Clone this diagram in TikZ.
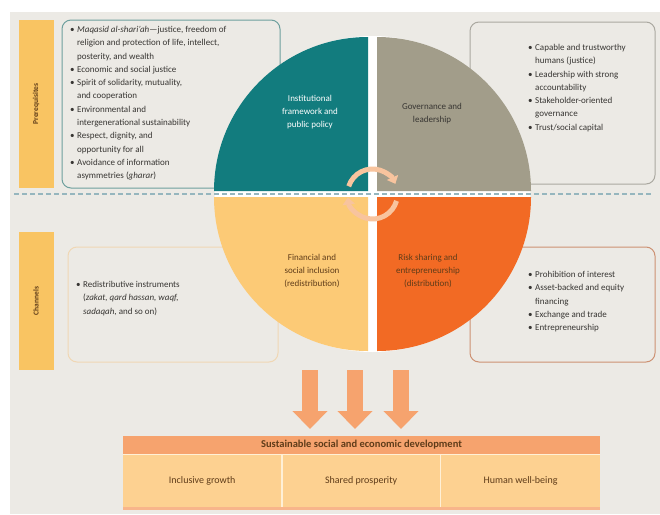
\documentclass[tikz,border=0pt]{standalone}
\usepackage{fontspec}
\setmainfont{Carlito}
\usetikzlibrary{arrows.meta,positioning,calc}
\definecolor{panelgray}{RGB}{236,234,229}
\definecolor{tealq}{RGB}{18,124,126}
\definecolor{taupeq}{RGB}{162,157,138}
\definecolor{sandq}{RGB}{252,202,118}
\definecolor{orangeq}{RGB}{242,106,36}
\definecolor{tabyellow}{RGB}{249,196,98}
\definecolor{salmon}{RGB}{246,163,110}
\definecolor{cellorange}{RGB}{253,209,145}
\definecolor{cream}{RGB}{255,240,214}
\definecolor{dashblue}{RGB}{150,182,190}
\definecolor{peach}{RGB}{248,196,158}
\definecolor{tealline}{RGB}{110,160,158}
\definecolor{grayline}{RGB}{170,168,160}
\definecolor{sandline}{RGB}{240,215,180}
\definecolor{rustline}{RGB}{205,145,115}
\definecolor{bodytext}{RGB}{55,53,50}
\definecolor{browntext}{RGB}{95,60,25}
\newcommand{\bulletitem}{\makebox[7pt][l]{\textbullet}}
\newcommand{\bulletgap}{\hspace*{7pt}}

\begin{document}
\begin{tikzpicture}[x=1pt,y=-1pt,
  tab/.style={fill=tabyellow,inner sep=0pt,rotate=90,font=\fontsize{7.5}{9}\selectfont\bfseries,text=browntext},
  infobox/.style={rounded corners=9pt,line width=1pt,fill=panelgray,inner sep=0pt},
  listtext/.style={anchor=north west,align=left,inner sep=0pt,font=\fontsize{9}{13.3}\selectfont,text=bodytext},
  quadtext/.style={align=center,font=\fontsize{9}{13}\selectfont},
  cell/.style={fill=cellorange,minimum height=52pt,inner sep=0pt,font=\fontsize{10}{12}\selectfont,text=browntext},
  downarrow/.style={salmon,line width=16pt,-{Triangle[length=18pt,width=34pt]}}]
\useasboundingbox (0,0) rectangle (660,514);
\fill[white] (0,0) rectangle (660,514);
\fill[panelgray] (10,12) rectangle (660,514);
\node (prereq) [tab,minimum width=168pt,minimum height=35pt] at (36,104) {Prerequisites};
\node (channels) [tab,minimum width=138pt,minimum height=35pt] at (36,301) {Channels};
\node (valuesbox) [infobox,draw=tealline,minimum width=218pt,minimum height=168pt] at (171,104) {};
\node (govbox) [infobox,draw=grayline,minimum width=185pt,minimum height=162pt] at (562.5,103) {};
\node (redistbox) [infobox,draw=sandline,minimum width=210pt,minimum height=115pt] at (173,304.5) {};
\node (riskbox) [infobox,draw=rustline,minimum width=185pt,minimum height=115pt] at (562.5,304.5) {};
\node (valuestext) [listtext] at (70,26) {\bulletitem\textit{Maqasid al-shari’ah}—justice, freedom of\\
  \bulletgap religion and protection of life, intellect,\\
  \bulletgap posterity, and wealth\\
  \bulletitem Economic and social justice\\
  \bulletitem Spirit of solidarity, mutuality,\\
  \bulletgap and cooperation\\
  \bulletitem Environmental and\\
  \bulletgap intergenerational sustainability\\
  \bulletitem Respect, dignity, and\\
  \bulletgap opportunity for all\\
  \bulletitem Avoidance of information\\
  \bulletgap asymmetries (\textit{gharar})};
\node (govtext) [listtext] at (528,44) {\bulletitem Capable and trustworthy\\
  \bulletgap humans (justice)\\
  \bulletitem Leadership with strong\\
  \bulletgap accountability\\
  \bulletitem Stakeholder-oriented\\
  \bulletgap governance\\
  \bulletitem Trust/social capital};
\node (redisttext) [listtext] at (76,281) {\bulletitem Redistributive instruments\\
  \bulletgap (\textit{zakat, qard hassan, waqf,}\\
  \bulletgap \textit{sadaqah}, and so on)};
\node (risktext) [listtext] at (528,271) {\bulletitem Prohibition of interest\\
  \bulletitem Asset-backed and equity\\
  \bulletgap financing\\
  \bulletitem Exchange and trade\\
  \bulletitem Entrepreneurship};
\coordinate (o) at (372.5,194);
\fill[white] (o) circle[radius=158];
\fill[tealq] (368,191) -- ++(-154,0) arc[start angle=180,end angle=270,radius=154] -- cycle;
\fill[taupeq] (377,191) -- ++(0,-154) arc[start angle=270,end angle=360,radius=154] -- cycle;
\fill[sandq] (368,197) -- ++(-154,0) arc[start angle=180,end angle=90,radius=154] -- cycle;
\fill[orangeq] (377,197) -- ++(154,0) arc[start angle=0,end angle=90,radius=154] -- cycle;
\node (instlabel) [quadtext,text=white] at (310,112) {Institutional\\framework and\\public policy};
\node (govlabel) [quadtext,text=bodytext] at (432,114) {Governance and\\leadership};
\node (finlabel) [quadtext,text=browntext] at (312,271) {Financial and\\social inclusion\\(redistribution)};
\node (risklabel) [quadtext,text=browntext] at (428,271) {Risk sharing and\\entrepreneurship\\(distribution)};
\coordinate (dashl) at (14,194);
\coordinate (dashr) at (652,194);
\draw[dashblue,line width=2pt,dash pattern=on 5pt off 3pt] (dashl) -- (dashr);
\draw[peach,line width=5pt,-{Triangle[length=7pt,width=12pt]}] ($(o)+(198:25)$) arc[start angle=198,end angle=336,radius=25];
\draw[peach,line width=5pt,-{Triangle[length=7pt,width=12pt]}] ($(o)+(16:25)$) arc[start angle=16,end angle=172,radius=25];
\foreach \x [count=\i] in {310,355,401} {
  \coordinate (top\i) at (\x,370);
  \coordinate (tip\i) at (\x,429);
  \draw[downarrow] (top\i) -- (tip\i);
}
\fill[cream] (123,454) rectangle (600,508);
\node (devbar) [fill=salmon,minimum width=477pt,minimum height=18pt,inner sep=0pt,font=\fontsize{10.5}{12}\selectfont\bfseries,text=browntext] at (361.5,445) {Sustainable social and economic development};
\node (growth) [cell,minimum width=158pt,anchor=north west] at (123,455) {Inclusive growth};
\node (prosperity) [cell,minimum width=157pt,right=1pt of growth] {Shared prosperity};
\node (wellbeing) [cell,minimum width=159pt,right=1pt of prosperity] {Human well-being};
\fill[salmon!80] (123,507) rectangle (600,510);
\end{tikzpicture}
\end{document}
